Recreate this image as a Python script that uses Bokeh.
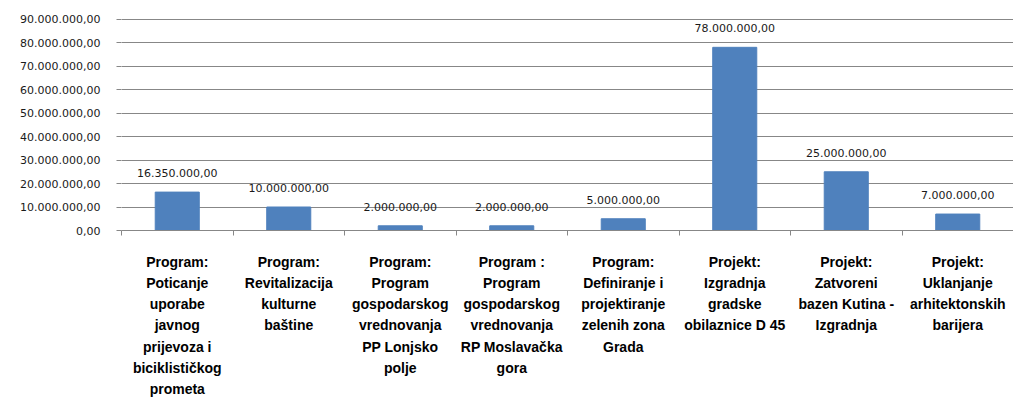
from bokeh.plotting import figure
from bokeh.models import Range1d, FixedTicker, LinearAxis, ColumnDataSource
from bokeh.core.properties import value
from bokeh.embed import file_html
from bokeh.resources import INLINE

categories = [
    "Program:\nPoticanje\nuporabe\njavnog\nprijevoza i\nbiciklističkog\nprometa",
    "Program:\nRevitalizacija\nkulturne\nbaštine",
    "Program:\nProgram\ngospodarskog\nvrednovanja\nPP Lonjsko\npolje",
    "Program :\nProgram\ngospodarskog\nvrednovanja\nRP Moslavačka\ngora",
    "Program:\nDefiniranje i\nprojektiranje\nzelenih zona\nGrada",
    "Projekt:\nIzgradnja\ngradske\nobilaznice D 45",
    "Projekt:\nZatvoreni\nbazen Kutina -\nIzgradnja",
    "Projekt:\nUklanjanje\narhitektonskih\nbarijera",
]
values = [16350000, 10000000, 2000000, 2000000, 5000000, 78000000, 25000000, 7000000]
y_ticks = [0, 10000000, 20000000, 30000000, 40000000, 50000000, 60000000, 70000000, 80000000, 90000000]


def hr(v):
    s = f"{v:,.2f}"
    return s.replace(",", "X").replace(".", ",").replace("X", ".")


n = len(categories)
centers = [i + 0.5 for i in range(n)]

p = figure(width=1013, height=400, output_backend="svg", toolbar_location=None,
           x_range=Range1d(0, n), y_range=Range1d(y_ticks[0], y_ticks[-1] * 1.003),
           min_border_left=121, min_border_right=0, min_border_top=18, min_border_bottom=169)
p.outline_line_color = None
p.background_fill_color = "white"
p.border_fill_color = "white"

src = ColumnDataSource(dict(x=centers, top=values, lab=[hr(v) for v in values]))
p.vbar(x="x", top="top", width=0.395, source=src, fill_color="#4F81BD", line_color="#4F81BD")
p.text(x="x", y="top", text="lab", source=src, text_align="center", text_baseline="bottom",
       y_offset=-15, text_font=value("DejaVu Sans"), text_font_size="11px", text_color="#1a1a1a")

# grid
p.xgrid.visible = False
p.ygrid.ticker = FixedTicker(ticks=y_ticks)
p.ygrid.grid_line_color = "#878787"
p.ygrid.grid_line_width = 1

# y axis
ya = p.yaxis[0]
ya.ticker = FixedTicker(ticks=y_ticks)
ya.major_label_overrides = {t: hr(t) for t in y_ticks}
ya.axis_line_color = None
ya.major_tick_in = 0
ya.major_tick_out = 5
ya.major_tick_line_color = "#878787"
ya.minor_tick_line_color = None
ya.major_label_standoff = 16
ya.major_label_text_font = "DejaVu Sans"
ya.major_label_text_font_size = "11px"
ya.major_label_text_color = "#1a1a1a"

# x axis: boundary ticks
xa = p.xaxis[0]
xa.ticker = FixedTicker(ticks=list(range(0, n + 1)))
xa.major_label_overrides = {i: "" for i in range(0, n + 1)}
xa.major_label_text_font_size = "0px"
xa.major_label_standoff = 0
xa.axis_line_color = "#878787"
xa.major_tick_in = 0
xa.major_tick_out = 5
xa.major_tick_line_color = "#878787"
xa.minor_tick_line_color = None

# category labels
la = LinearAxis(ticker=FixedTicker(ticks=centers),
                major_label_overrides={c: lab for c, lab in zip(centers, categories)})
la.axis_line_color = None
la.major_tick_line_color = None
la.minor_tick_line_color = None
la.major_label_standoff = 12
la.major_label_text_font = "Liberation Sans"
la.major_label_text_font_style = "bold"
la.major_label_text_font_size = "14px"
la.major_label_text_line_height = 1.33
la.major_label_text_color = "#000000"
la.major_label_text_align = "center"
p.add_layout(la, "below")

open("out.html", "w").write(file_html(p, INLINE))
